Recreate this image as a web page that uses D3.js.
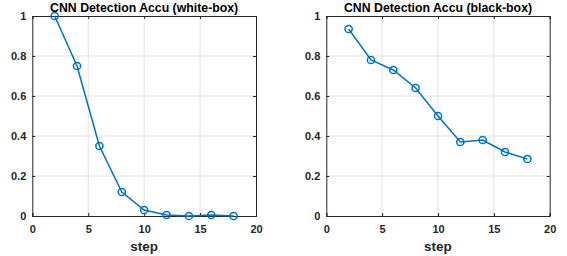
<!DOCTYPE html>
<html>
<head>
<meta charset="utf-8">
<script src="https://cdn.jsdelivr.net/npm/d3@7"></script>
<style>
  body { margin: 0; background: #fff; }
  svg { display: block; }
  text { font-family: "Liberation Sans", Arial, sans-serif; font-weight: bold; }
</style>
</head>
<body>
<svg id="chart" width="567" height="256"></svg>
<script>
// --- Dados ---
const steps = [2, 4, 6, 8, 10, 12, 14, 16, 18];
const whiteBox = [1.0, 0.75, 0.35, 0.12, 0.03, 0.005, 0.0, 0.005, 0.0];
const blackBox = [0.935, 0.78, 0.73, 0.64, 0.50, 0.37, 0.38, 0.32, 0.285];
const xTicks = [0, 5, 10, 15, 20];
const yTicks = [0, 0.2, 0.4, 0.6, 0.8, 1];
const titles = ["CNN Detection Accu (white-box)", "CNN Detection Accu (black-box)"];

const svg = d3.select("#chart");
const lineColor = "#0072bd";
const axisColor = "#262626";

// painéis: posição do box de cada eixo
const panels = [
  { left: 32.3, right: 256, top: 16, bottom: 216, values: whiteBox, title: titles[0] },
  { left: 326.3, right: 549.7, top: 16, bottom: 216, values: blackBox, title: titles[1] }
];

panels.forEach(p => {
  const x = d3.scaleLinear().domain([0, 20]).range([p.left, p.right]);
  const y = d3.scaleLinear().domain([0, 1]).range([p.bottom, p.top]);
  const g = svg.append("g");

  // grade
  g.selectAll(".gx").data(xTicks.slice(1, -1)).enter().append("line")
    .attr("x1", d => x(d)).attr("x2", d => x(d))
    .attr("y1", p.top).attr("y2", p.bottom)
    .attr("stroke", "#e3e3e3").attr("stroke-width", 1);
  g.selectAll(".gy").data(yTicks.slice(1, -1)).enter().append("line")
    .attr("x1", p.left).attr("x2", p.right)
    .attr("y1", d => y(d)).attr("y2", d => y(d))
    .attr("stroke", "#e3e3e3").attr("stroke-width", 1);

  // eixos (ticks para dentro)
  const fmt = d => d3.format("~g")(d);
  const xAxis = g.append("g").attr("transform", `translate(0,${p.bottom})`)
    .call(d3.axisBottom(x).tickValues(xTicks).tickSize(-3).tickPadding(9).tickFormat(fmt));
  const xTop = g.append("g").attr("transform", `translate(0,${p.top})`)
    .call(d3.axisTop(x).tickValues(xTicks).tickSize(-3).tickFormat(""));
  const yAxis = g.append("g").attr("transform", `translate(${p.left},0)`)
    .call(d3.axisLeft(y).tickValues(yTicks).tickSize(-3).tickPadding(6).tickFormat(fmt));
  const yRight = g.append("g").attr("transform", `translate(${p.right},0)`)
    .call(d3.axisRight(y).tickValues(yTicks).tickSize(-3).tickFormat(""));

  [xAxis, xTop, yAxis, yRight].forEach(a => {
    a.select(".domain").attr("stroke", axisColor).attr("stroke-width", 1);
    a.selectAll(".tick line").attr("stroke", axisColor);
    a.selectAll("text").attr("fill", axisColor).style("font-size", "11px");
  });

  // linha e marcadores
  const pts = steps.map((s, i) => [s, p.values[i]]);
  g.append("path").datum(pts)
    .attr("fill", "none").attr("stroke", lineColor).attr("stroke-width", 1.5)
    .attr("d", d3.line().x(d => x(d[0])).y(d => y(d[1])));
  g.selectAll(".dot").data(pts).enter().append("circle")
    .attr("cx", d => x(d[0])).attr("cy", d => y(d[1])).attr("r", 3.6)
    .attr("fill", "none").attr("stroke", lineColor).attr("stroke-width", 1.5);

  // título e rótulo
  g.append("text").attr("x", (p.left + p.right) / 2).attr("y", 11.5)
    .attr("text-anchor", "middle").attr("fill", "#000").style("font-size", "12.3px")
    .text(p.title);
  g.append("text").attr("x", (p.left + p.right) / 2).attr("y", 250.5)
    .attr("text-anchor", "middle").attr("fill", axisColor).style("font-size", "13.5px")
    .text("step");
});
</script>
</body>
</html>
